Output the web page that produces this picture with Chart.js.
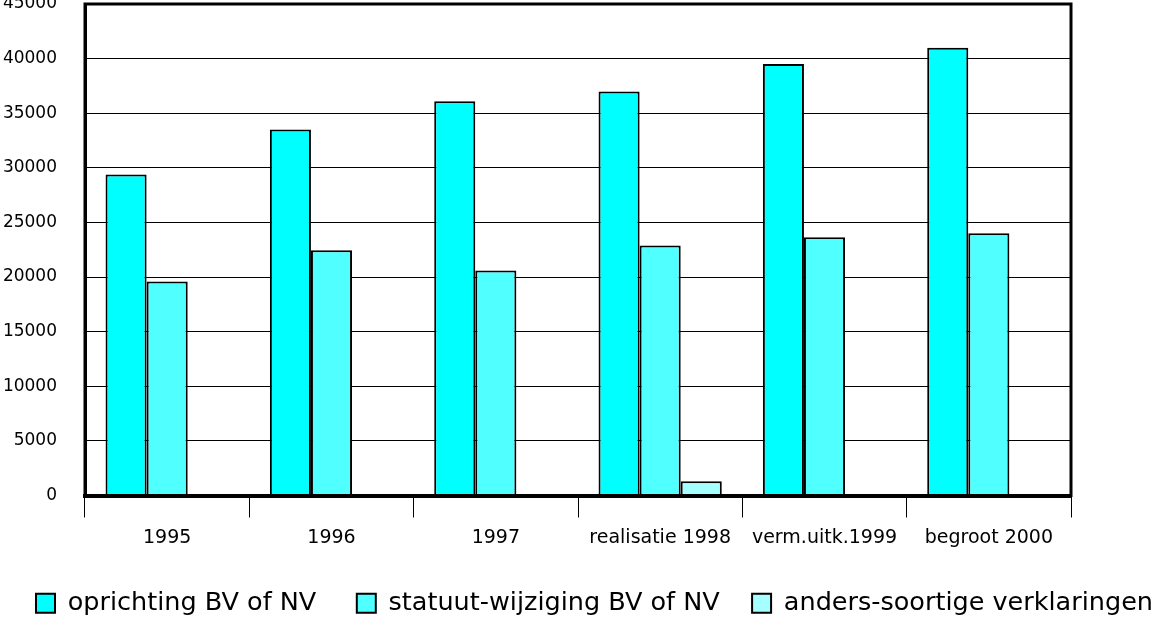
<!DOCTYPE html>
<html>
<head>
<meta charset="utf-8">
<script src="https://cdn.jsdelivr.net/npm/chart.js@4"></script>
<style>
  html, body { margin: 0; padding: 0; background: #fff; overflow: hidden; }
  #wrap { width: 1157px; height: 617px; }
</style>
</head>
<body>
<div id="wrap"><canvas id="grafico" width="1157" height="617"></canvas></div>
<script>
// ================= DATA =================
const categorias = ["1995", "1996", "1997", "realisatie 1998", "verm.uitk.1999", "begroot 2000"];

const oprichting = [29400, 33500, 36100, 37000, 39500, 41000];
const statuutWijziging = [19600, 22450, 20600, 22900, 23650, 24000];
const andersSoortig = [null, null, null, 1300, null, null];

const yTicks = { min: 0, max: 45000, stap: 5000 };

// ================= STYLE =================
Chart.defaults.color = "#000";
Chart.defaults.font.family = "'DejaVu Sans', sans-serif";

// frame around the plot area
const kader = {
    id: "kader",
    afterDatasetsDraw(chart) {
        const { ctx, chartArea: a } = chart;
        ctx.save();
        ctx.strokeStyle = "#000";
        ctx.lineWidth = 3;
        ctx.strokeRect(a.left, a.top, a.right - a.left, a.bottom - a.top);
        ctx.restore();
    }
};

// legend row sits a little right of centre in the original
const legendaSchuif = {
    id: "legendaSchuif",
    afterLayout(chart) {
        if (!chart.legend) return;
        chart.legend.left += 16;
        chart.legend.right += 16;
    }
};

// spacing after each legend entry (trailing blanks)
const legendGap = [5, 4, 0];

new Chart(document.getElementById("grafico"), {
    type: "bar",
    data: {
        labels: categorias,
        datasets: [
            { label: "oprichting BV of NV", data: oprichting, backgroundColor: "#00ffff" },
            { label: "statuut-wijziging BV of NV", data: statuutWijziging, backgroundColor: "#50ffff" },
            { label: "anders-soortige verklaringen", data: andersSoortig, backgroundColor: "#a6ffff" }
        ].map(d => ({ ...d, borderColor: "#000", borderWidth: 2, categoryPercentage: 0.75, barPercentage: 1 }))
    },
    options: {
        responsive: false,
        animation: false,
        layout: { padding: { top: 4, left: 0, right: 0, bottom: -9 } },
        plugins: {
            tooltip: { enabled: false },
            legend: {
                position: "bottom",
                labels: {
                    boxWidth: 19,
                    boxHeight: 19,
                    padding: 0,
                    font: { size: 25.5 },
                    generateLabels: chart =>
                        Chart.defaults.plugins.legend.labels.generateLabels(chart).map((l, i) => {
                            l.text = l.text + " ".repeat(legendGap[i]);
                            return l;
                        })
                }
            }
        },
        scales: {
            x: {
                offset: true,
                grid: { offset: true, drawOnChartArea: false, drawTicks: true, tickLength: 22, color: "#000", lineWidth: 1 },
                border: { display: true, color: "#000", width: 4 },
                ticks: { padding: 9, font: { size: 19 }, maxRotation: 0, autoSkip: false },
                afterFit: s => { s.height = 95; }
            },
            y: {
                min: yTicks.min,
                max: yTicks.max,
                grid: { color: "#000", lineWidth: 1, drawTicks: false },
                border: { display: true, color: "#000", width: 3 },
                ticks: { stepSize: yTicks.stap, padding: 28, font: { size: 17 }, callback: v => String(v) },
                afterFit: s => { s.width = 85; s.paddingTop = 0; s.paddingBottom = 0; }
            },
            y2: {
                position: "right",
                display: true,
                grid: { display: false },
                border: { display: false },
                ticks: { display: false },
                afterFit: s => { s.width = 86; s.paddingTop = 0; s.paddingBottom = 0; }
            }
        }
    },
    plugins: [kader, legendaSchuif]
});
</script>
</body>
</html>
